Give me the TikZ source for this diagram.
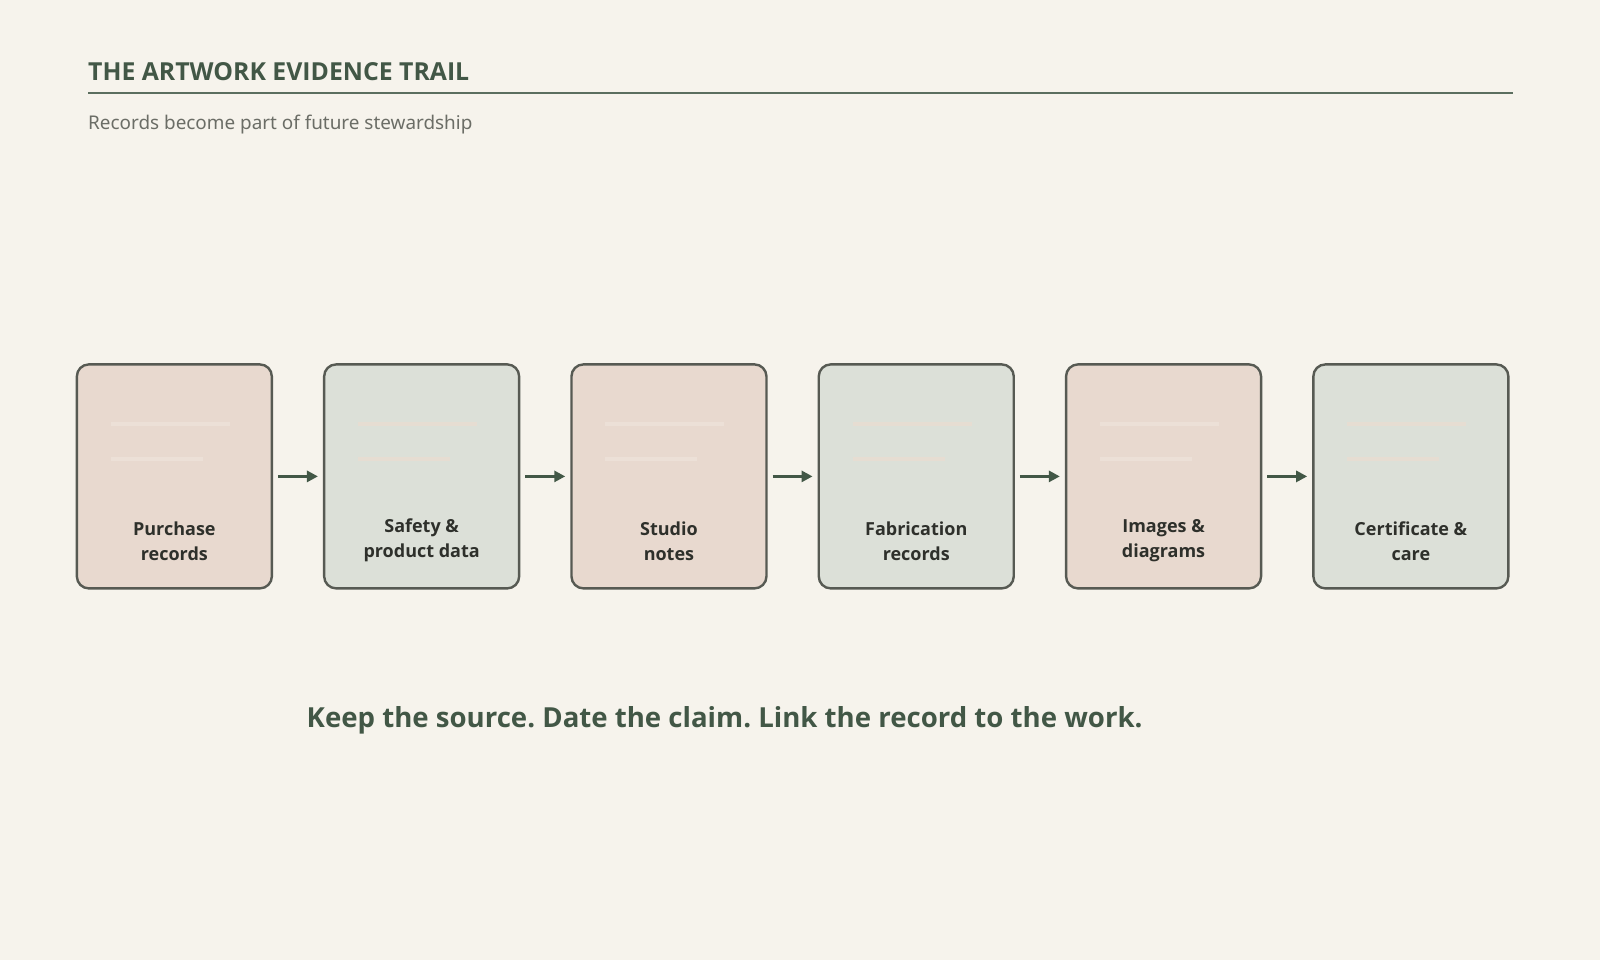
\documentclass[tikz,border=0pt]{standalone}
\usepackage{fontspec}
\setmainfont{Noto Sans}
\newfontfamily\heavy{Open Sans}
\frenchspacing
\usetikzlibrary{arrows.meta}
\definecolor{bg}{HTML}{F6F3EC}
\definecolor{ink}{HTML}{425746}
\definecolor{rulec}{HTML}{5B6E5F}
\definecolor{subc}{HTML}{6B6D66}
\definecolor{labc}{HTML}{2E302B}
\definecolor{edgec}{HTML}{575A53}
\definecolor{pinkf}{HTML}{E8D9CF}
\definecolor{greenf}{HTML}{DCE0D8}
\definecolor{pinkl}{HTML}{ECE0D7}
\definecolor{greenl}{HTML}{E6DDD2}
\tikzset{
  card/.style={draw=edgec, line width=2.4pt, rounded corners=12pt, minimum width=195pt, minimum height=224pt, inner sep=0pt},
  pinkcard/.style={card, fill=pinkf},
  greencard/.style={card, fill=greenf},
  lab/.style={anchor=base, inner sep=0pt, text=labc, font=\heavy\bfseries\fontsize{18}{25}\selectfont},
  flow/.style={draw=ink, line width=3pt, -{Triangle[length=11pt,width=11pt]}},
  faint/.style={line width=4pt}
}
\newcommand{\twolines}[2]{\setlength{\tabcolsep}{0pt}\begin{tabular}[t]{c}#1\\#2\end{tabular}}
\begin{document}
\begin{tikzpicture}[x=1pt,y=-1pt]
\fill[bg] (0,0) rectangle (1600,960);
\useasboundingbox (0,0) rectangle (1600,960);
% title
\node[anchor=base west, inner sep=0pt, text=ink, font=\heavy\bfseries\fontsize{24.8}{28}\selectfont] (title) at (88,80.7) {THE ARTWORK EVIDENCE TRAIL};
\coordinate (rl) at (88,92.7);
\coordinate (rr) at (1513,92.7);
\draw[rulec, line width=2pt] (rl) -- (rr);
\node[anchor=base west, inner sep=0pt, text=subc, font=\fontsize{18.9}{22}\selectfont] (sub) at (88,130) {Records become part of future stewardship};
% cards
\foreach \i/\sty/\lc in {0/pinkcard/pinkl,1/greencard/greenl,2/pinkcard/pinkl,3/greencard/greenl,4/pinkcard/pinkl,5/greencard/greenl}{
  \pgfmathsetmacro{\cx}{174.35+247.3*\i}
  \node[\sty] (c\i) at (\cx,476.4) {};
  \draw[\lc, faint] ([xshift=35pt,yshift=-61pt]c\i.north west) -- ++(119,0);
  \draw[\lc, faint] ([xshift=35pt,yshift=-96pt]c\i.north west) -- ++(92,0);
}
\node[lab] (l0) at (c0.center |- 0,535) {\twolines{Purchase}{records}};
\node[lab] (l1) at (c1.center |- 0,532.6) {\twolines{Safety \&}{product data}};
\node[lab] (l2) at (c2.center |- 0,535) {\twolines{Studio}{notes}};
\node[lab] (l3) at (c3.center |- 0,535) {\twolines{Fabrication}{records}};
\node[lab] (l4) at (c4.center |- 0,532.6) {\twolines{Images \&}{diagrams}};
\node[lab] (l5) at (c5.center |- 0,535) {\twolines{Certificate \&}{care}};
% arrows
\foreach \a/\b in {0/1,1/2,2/3,3/4,4/5}{
  \draw[flow] ([xshift=5pt]c\a.east) -- ([xshift=-5pt]c\b.west);
}
% bottom line
\node[anchor=base west, inner sep=0pt, text=ink, font=\heavy\bfseries\fontsize{27.6}{32}\selectfont] (motto) at (306.5,727) {Keep the source. Date the claim. Link the record to the work.};
\end{tikzpicture}
\end{document}
